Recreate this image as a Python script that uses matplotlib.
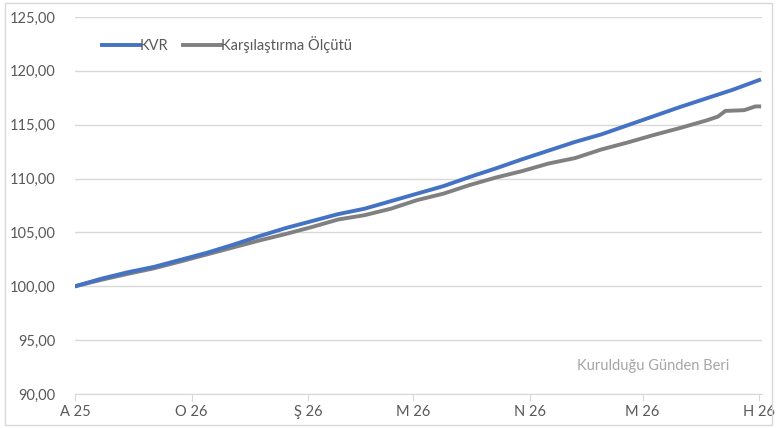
import numpy as np
import pandas as pd
import matplotlib
matplotlib.use("Agg")
import matplotlib.pyplot as plt
from matplotlib.patches import Rectangle

plt.rcParams['font.family'] = ['Lato', 'DejaVu Sans']

# weekly readings (from 2025-12-01 to 2026-06-01)
dates = pd.date_range("2025-12-01", "2026-06-01", freq="7D")
kvr = [100.0, 100.7, 101.3, 101.8, 102.45, 103.1, 103.85, 104.65, 105.4,
       106.05, 106.7, 107.2, 107.9, 108.6, 109.3, 110.15, 110.95, 111.8,
       112.6, 113.4, 114.1, 114.95, 115.8, 116.65, 117.45, 118.25, 119.15]

# benchmark, weekly plus a few extra readings near the end
bench_dates = pd.to_datetime([
    "2025-12-01", "2025-12-08", "2025-12-15", "2025-12-22", "2025-12-29",
    "2026-01-05", "2026-01-12", "2026-01-19", "2026-01-26", "2026-02-02",
    "2026-02-09", "2026-02-16", "2026-02-23", "2026-03-02", "2026-03-09",
    "2026-03-16", "2026-03-23", "2026-03-30", "2026-04-06", "2026-04-13",
    "2026-04-20", "2026-04-27", "2026-05-04", "2026-05-11", "2026-05-18",
    "2026-05-21", "2026-05-23", "2026-05-28", "2026-05-31", "2026-06-01"])
bench = [100.0, 100.6, 101.15, 101.67, 102.3, 102.95, 103.6, 104.25, 104.85,
         105.5, 106.2, 106.6, 107.2, 108.0, 108.6, 109.4, 110.1, 110.7,
         111.4, 111.9, 112.7, 113.35, 114.05, 114.7, 115.4, 115.75, 116.28,
         116.35, 116.7, 116.7]

tick_dates = pd.to_datetime(["2025-12-01", "2026-01-01", "2026-02-01", "2026-03-01",
                             "2026-04-01", "2026-05-01", "2026-06-01"])
tick_labels = ["A 25", "O 26", "Ş 26", "M 26", "N 26", "M 26", "H 26"]

fig = plt.figure(figsize=(7.78, 4.28), dpi=100)
ax = fig.add_axes([75/778, 1-394/428, 687/778, 377/428])

ax.plot(dates, kvr, color="#4472C4", lw=2.8, label="KVR", zorder=3)
ax.plot(bench_dates, bench, color="#808080", lw=2.8, label="Karşılaştırma Ölçütü", zorder=2)

ax.set_ylim(90, 125)
ax.set_yticks(np.arange(90, 126, 5))
ax.set_yticklabels([f"{v:.2f}".replace(".", ",") for v in np.arange(90, 126, 5)])
ax.set_xlim(tick_dates[0], pd.Timestamp("2026-06-01 18:00"))
ax.set_xticks(tick_dates)
ax.set_xticklabels(tick_labels)

ax.grid(axis="y", color="#d9d9d9", lw=1)
ax.set_axisbelow(True)
for s in ["top", "right", "left"]:
    ax.spines[s].set_visible(False)
ax.spines["bottom"].set_color("#d9d9d9")
ax.tick_params(axis="y", length=0, labelsize=10.5, labelcolor="#595959", pad=14)
ax.tick_params(axis="x", length=5, color="#d9d9d9", labelsize=10.5, labelcolor="#595959", pad=3)

ax.legend(loc="upper left", bbox_to_anchor=(0.02, 0.985), ncol=2, frameon=False,
          handlelength=2.6, handletextpad=0.0, columnspacing=1.0,
          fontsize=10.5, labelcolor="#595959")

ax.text(0.953, 0.075, "Kurulduğu Günden Beri", transform=ax.transAxes,
        ha="right", va="center", fontsize=10.5, color="#a6a6a6")

fig.patches.append(Rectangle((5/778, 3/428), 767/778, 422/428, transform=fig.transFigure,
                             fill=False, edgecolor="#d9d9d9", lw=1))

fig.savefig("out.png", dpi=100)
